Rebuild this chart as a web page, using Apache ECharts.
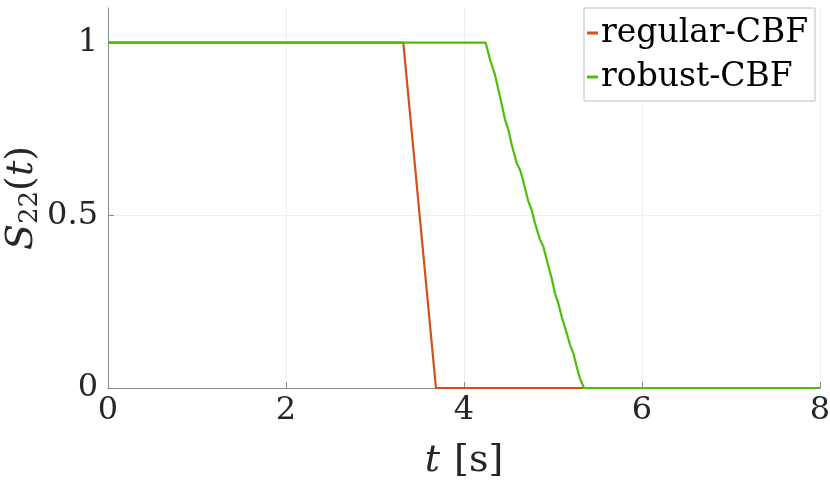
<!DOCTYPE html>
<html>
<head>
<meta charset="utf-8">
<script src="https://cdn.jsdelivr.net/npm/echarts@6/dist/echarts.min.js"></script>
<style>html,body{margin:0;padding:0;background:#fff}#c{width:830px;height:491px}</style>
</head>
<body>
<div id="c"></div>
<script>
const xTicks = [0, 2, 4, 6, 8];
const yTicks = [0, 0.5, 1];
const seriesNames = ['regular-CBF', 'robust-CBF'];
const regularT = [0, 3.318, 3.685, 8];
const regularS = [1, 1, 0, 0];
const robustT = [0, 4.243, 4.292, 4.348, 4.404, 4.461, 4.498, 4.536, 4.592, 4.629, 4.667, 4.723, 4.760, 4.798, 4.854, 4.891, 4.929, 4.985, 5.022, 5.060, 5.097, 5.154, 5.191, 5.228, 5.266, 5.303, 5.348, 8];
const robustS = [1, 1, 0.951, 0.907, 0.844, 0.777, 0.748, 0.704, 0.651, 0.632, 0.598, 0.540, 0.516, 0.477, 0.429, 0.410, 0.371, 0.318, 0.274, 0.245, 0.207, 0.159, 0.125, 0.101, 0.062, 0.028, 0, 0];

const zip = (a, b) => a.map((v, i) => [v, b[i]]);
const FONT = '"DejaVu Serif"';
const axisCol = '#8a8a8a';
const txtCol = '#262626';

const chart = echarts.init(document.getElementById('c'));
chart.setOption({
  animation: false,
  backgroundColor: '#fff',
  textStyle: { fontFamily: FONT },
  grid: { left: 108, right: 10, top: 8, bottom: 103, containLabel: false, outerBoundsMode: 'none' },
  legend: {
    orient: 'vertical',
    left: 584, top: 8,
    padding: [6, 6, 5, 3],
    itemGap: 6,
    itemWidth: 11, itemHeight: 3,
    icon: 'rect',
    backgroundColor: '#fff',
    borderColor: '#bfbfbf', borderWidth: 1,
    textStyle: { fontFamily: FONT, fontSize: 33, color: '#000', width: 208, lineHeight: 38, padding: [0,0,0,-2] },
    data: seriesNames
  },
  xAxis: {
    type: 'value', min: 0, max: 8, interval: 2,
    name: '{i|t}{n|[s]}', nameLocation: 'middle', nameGap: 54, nameMoveOverlap: false,
    nameTextStyle: { rich: {
      i: { fontFamily: FONT, fontStyle: 'italic', fontSize: 38, color: txtCol, padding: [0, 14, 0, 0] },
      n: { fontFamily: FONT, fontSize: 38, color: txtCol }
    } },
    axisLine: { show: true, lineStyle: { color: axisCol, width: 1 } },
    axisTick: { show: true, inside: true, length: 6, lineStyle: { color: axisCol } },
    axisLabel: { fontFamily: FONT, fontSize: 32, color: txtCol, margin: 7 },
    splitLine: { show: true, lineStyle: { color: '#efefef', width: 1 } }
  },
  yAxis: {
    type: 'value', min: 0, max: 1.1, interval: 0.5,
    name: '{i|S}{s|22}{n|(}{i|t}{n|)}', nameLocation: 'middle', nameGap: 65, nameRotate: 90, nameMoveOverlap: false,
    nameTextStyle: { rich: {
      i: { fontFamily: FONT, fontStyle: 'italic', fontSize: 38, color: txtCol },
      s: { fontFamily: FONT, fontSize: 26, color: txtCol, verticalAlign: 'bottom', padding: [16,0,0,0] },
      n: { fontFamily: FONT, fontSize: 38, color: txtCol }
    } },
    axisLine: { show: true, lineStyle: { color: axisCol, width: 1 } },
    axisTick: { show: true, inside: true, length: 6, lineStyle: { color: axisCol },
      customValues: yTicks },
    axisLabel: { fontFamily: FONT, fontSize: 32, color: txtCol, margin: 10,
      customValues: yTicks, formatter: v => String(v) },
    splitLine: { show: true, showMaxLine: false, lineStyle: { color: '#efefef', width: 1 } }
  },
  series: [
    { name: seriesNames[0], type: 'line', data: zip(regularT, regularS), symbol: 'none',
      lineStyle: { color: '#D2501A', width: 2.2 }, itemStyle: { color: '#D2501A' } },
    { name: seriesNames[1], type: 'line', data: zip(robustT, robustS), symbol: 'none',
      lineStyle: { color: '#4DBE0A', width: 2.2 }, itemStyle: { color: '#4DBE0A' } }
  ]
});
</script>
</body>
</html>
